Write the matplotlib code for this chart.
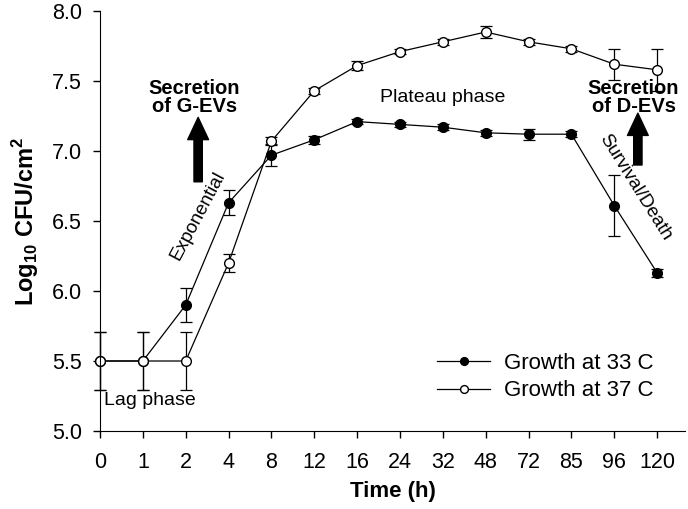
import matplotlib.pyplot as plt
import numpy as np

plt.rcParams["font.family"] = ["Liberation Sans", "DejaVu Sans"]
plt.rcParams["mathtext.fontset"] = "custom"
plt.rcParams["mathtext.rm"] = "Liberation Sans"
plt.rcParams["mathtext.bf"] = "Liberation Sans:bold"

# 時間點 (類別軸)
time_labels = ["0", "1", "2", "4", "8", "12", "16", "24", "32", "48", "72", "85", "96", "120"]

# 33 C
cfu_33 = [5.5, 5.5, 5.9, 6.63, 6.97, 7.08, 7.21, 7.19, 7.17, 7.13, 7.12, 7.12, 6.61, 6.13]
err_33 = [0.21, 0.21, 0.12, 0.09, 0.08, 0.03, 0.02, 0.02, 0.02, 0.02, 0.04, 0.02, 0.22, 0.03]

# 37 C
cfu_37 = [5.5, 5.5, 5.5, 6.2, 7.07, 7.43, 7.61, 7.71, 7.78, 7.85, 7.78, 7.73, 7.62, 7.58]
err_37 = [0.21, 0.21, 0.21, 0.065, 0.03, 0.02, 0.03, 0.02, 0.02, 0.04, 0.02, 0.02, 0.11, 0.15]

x = np.arange(len(time_labels))

fig = plt.figure(figsize=(6.88, 5.09), dpi=100)
ax = fig.add_axes([100 / 688, 1 - 431 / 509, 585 / 688, 420 / 509])

c33 = ax.errorbar(x, cfu_33, yerr=err_33, fmt="o-", color="black", mfc="black", mec="black",
                  ms=7, lw=0.9, elinewidth=0.9, capsize=4, capthick=0.9, label="Growth at 33 C")
c37 = ax.errorbar(x, cfu_37, yerr=err_37, fmt="o-", color="black", mfc="white", mec="black",
                  ms=7, lw=0.9, elinewidth=0.9, capsize=4, capthick=0.9, label="Growth at 37 C")
for c in (c33, c37):
    for art in c.get_children():
        art.set_clip_on(False)

ax.set_xlim(0, 13.65)
ax.set_ylim(5.0, 8.0)
ax.set_xticks(x)
ax.set_xticklabels(time_labels)
ax.set_yticks(np.arange(5.0, 8.01, 0.5))
ax.set_yticklabels([f"{v:.1f}" for v in np.arange(5.0, 8.01, 0.5)])
ax.tick_params(direction="out", length=5, width=1, labelsize=15.5)
ax.tick_params(axis="x", pad=10)
ax.tick_params(axis="y", pad=8)
ax.spines[["top", "right"]].set_visible(False)

ax.set_xlabel("Time (h)", fontsize=16, fontweight="bold", labelpad=6)
ax.set_ylabel(r"Log$_{\mathbf{10}}$ CFU/cm$^{\mathbf{2}}$", fontsize=17, fontweight="bold",
              labelpad=8)

# 註解
ax.text(1.17, 5.22, "Lag phase", fontsize=14, ha="center", va="center")
ax.text(2.29, 6.54, "Exponential", fontsize=13.5, ha="center", va="center", rotation=62)
ax.text(8.0, 7.38, "Plateau phase", fontsize=14, ha="center", va="center")
ax.text(12.5, 6.74, "Survival/Death", fontsize=13.5, ha="center", va="center", rotation=-58)
ax.text(2.2, 7.38, "Secretion\nof G-EVs", fontsize=14.5, fontweight="bold", ha="center",
        va="center", linespacing=0.95)
ax.text(12.45, 7.38, "Secretion\nof D-EVs", fontsize=14.5, fontweight="bold", ha="center",
        va="center", linespacing=0.95)
ax.annotate("", xy=(2.29, 7.24), xytext=(2.29, 6.78),
            arrowprops=dict(width=6, headwidth=15, headlength=16, color="black"))
ax.annotate("", xy=(12.55, 7.27), xytext=(12.55, 6.9),
            arrowprops=dict(width=6, headwidth=15, headlength=16, color="black"))

leg = ax.legend(handles=[c33[0], c37[0]], labels=["Growth at 33 C", "Growth at 37 C"],
                loc="lower right", bbox_to_anchor=(0.98, 0.023), frameon=False, fontsize=16,
                handlelength=2.4, handletextpad=0.6, labelspacing=0.29, markerscale=0.8)

fig.savefig("out.png", dpi=100)
